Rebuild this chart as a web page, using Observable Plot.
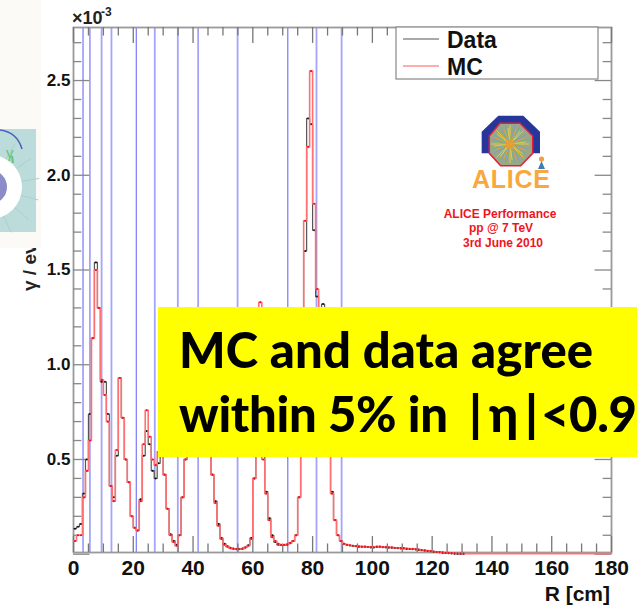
<!DOCTYPE html>
<html>
<head>
<meta charset="utf-8">
<script src="https://cdn.jsdelivr.net/npm/d3@7"></script>
<script src="https://cdn.jsdelivr.net/npm/@observablehq/plot@0.6"></script>
<style>
html,body{margin:0;padding:0;background:#fff;}
#wrap{position:relative;width:637px;height:608px;overflow:hidden;}
#wrap svg{position:absolute;left:0;top:0;}
</style>
</head>
<body>
<div id="wrap"></div>
<script>
// Per-bin values (R bin start = array index, cm), in units of 10^-3 gamma/event
const mcValues = [
  .07,.10,.10,.30,.44,.60,1.14,1.50,1.30,.92,
  .84,.70,.36,.28,.55,.93,.72,.50,.38,.20,
  .14,.125,.28,.58,.76,.62,.50,.47,.54,.58,
  .42,.24,.10,.065,.045,.10,.30,.50,.90,1.00,
  .95,.85,.95,1.00,.90,.75,.42,.27,.15,.08,
  .05,.04,.032,.028,.026,.026,.028,.035,.045,.08,
  .40,.95,1.33,.50,.32,.18,.09,.07,.055,.05,
  .05,.052,.06,.07,.10,.30,.90,1.76,2.15,2.55,
  1.85,1.40,1.25,1.15,1.00,.70,.32,.18,.10,.07,
  .055,.05,.047,.045,.043,.042,.04,.04,.038,.038,
  .037,.04,.04,.038,.038,.036,.036,.034,.033,.032,
  .032,.03,.028,.028,.026,.025,.022,.02,.018,.016,
  .014,.012,.011,.01,.008,.007,.006,.005,.004,.004,.003
];
const dataValues = [
  .135,.145,.16,.32,.50,.74,1.14,1.54,1.30,.91,
  .91,.74,.36,.30,.52,.93,.72,.50,.38,.20,
  .14,.125,.29,.52,.65,.58,.44,.40,.48,.58,
  .42,.24,.105,.07,.05,.10,.30,.50,.88,.98,
  .93,.85,.93,.98,.88,.73,.42,.28,.16,.085,
  .055,.042,.034,.03,.028,.028,.03,.036,.047,.085,
  .40,.93,1.30,.52,.33,.19,.10,.065,.05,.048,
  .048,.05,.058,.07,.10,.30,.88,1.60,2.30,2.27,
  1.71,1.36,1.22,1.32,1.00,.70,.33,.18,.10,.07,
  .055,.05,.046,.044,.042,.04,.04,.039,.038,.036,
  .036,.038,.04,.037,.036,.035,.034,.033,.032,.03,
  .03,.028,.027,.026,.025,.023,.021,.019,.017,.015,
  .013,.011,.01,.008,.006,.005,.004,.003,.002,.002,.001
];
const mcTailR = [131, 180];
const mcTailValues = [.003, .003];

// Vertical material-boundary lines (R in cm)
const paleLines = [3.2, 9.4, 12.7, 27.2, 34.9, 41.7, 54.9, 81.3, 89.7];
const darkLines = [5.5, 21, 71.7];

const xLabels = [0,20,40,60,80,100,120,140,160,180];
const yLabels = [0.5,1.0,1.5,2.0,2.5];
const xTicksMinor = d3.range(0,181,5);
const yTicksMinor = d3.range(0,2.8,0.1);

const xMax = 180, yMin = 0.009, yMax = 2.78;
const xMajorLen = 5.5, xMinorLen = 2.8;     // tick length in cm
const yMajorLen = 0.084, yMinorLen = 0.045; // tick length in 10^-3 units

const rows = (vals) => vals.map((v,i)=>({R:i, v}));
const mcRows = rows(mcValues).concat(mcTailR.map((R,i)=>({R, v:mcTailValues[i]})));
const dataRows = rows(dataValues);

const grey = "#9a9a9a";
const axisFont = "'Liberation Sans', Arial, sans-serif";

const plot = Plot.plot({
  width:637, height:608,
  marginLeft:73, marginRight:26, marginTop:27, marginBottom:56,
  style:{background:"#fff", fontFamily:axisFont, overflow:"visible"},
  x:{domain:[0,xMax], axis:null},
  y:{domain:[yMin,yMax], axis:null},
  marks:[
    // boundary lines
    Plot.ruleX(paleLines,{stroke:"#a4a4fb", strokeWidth:1.8}),
    Plot.ruleX(darkLines,{stroke:"#6c6cf2", strokeWidth:1.1}),
    // frame
    Plot.frame({stroke:grey, strokeWidth:1.8}),
    // ticks, bottom and top, left and right
    Plot.ruleX(xTicksMinor,{y1:yMin, y2:d=>yMin+(d%20===0?yMajorLen:yMinorLen), stroke:"#777", strokeWidth:1.3}),
    Plot.ruleX(xTicksMinor,{y1:yMax, y2:d=>yMax-(d%20===0?yMajorLen:yMinorLen), stroke:"#777", strokeWidth:1.3}),
    Plot.ruleY(yTicksMinor,{x1:0, x2:d=>(Math.round(d*10)%5===0?xMajorLen:xMinorLen), stroke:"#888", strokeWidth:1.3}),
    Plot.ruleY(yTicksMinor,{x1:xMax, x2:d=>xMax-(Math.round(d*10)%5===0?xMajorLen:xMinorLen), stroke:"#888", strokeWidth:1.3}),
    // tick labels
    Plot.axisX(xLabels,{anchor:"bottom", tickSize:0, tickPadding:8, fontSize:21, fontWeight:700, fill:"#111", label:null, tickFormat:d=>d}),
    Plot.axisY(yLabels,{anchor:"left", tickSize:0, tickPadding:3, fontSize:17, fontWeight:700, fill:"#111", label:null, tickFormat:d=>d.toFixed(1)}),
    // curves with their per-bin points
    Plot.line(dataRows,{x:"R", y:"v", curve:"step-after", stroke:"#555", strokeWidth:1.2}),
    Plot.dot(dataRows,{x:d=>d.R+0.5, y:"v", r:1, fill:"#111"}),
    Plot.line(mcRows,{x:"R", y:"v", curve:"step-after", stroke:"#ff7070", strokeWidth:1.6}),
    Plot.dot(mcValues.map((v,i)=>({R:i,v})),{x:d=>d.R+0.5, y:"v", r:1.05, fill:"#e8101c"})
  ]
});
document.getElementById("wrap").appendChild(plot);

// Decorations that sit on top of the plot
const ov = d3.select("#wrap").append("svg").attr("width",637).attr("height",608)
  .style("font-family",axisFont);

// axis captions
ov.append("text").attr("x",72).attr("y",24).attr("font-size",18).attr("font-weight",700).attr("fill","#222").text("×10");
ov.append("text").attr("x",101).attr("y",16).attr("font-size",12).attr("font-weight",700).attr("fill","#222").text("-3");
ov.append("text").attr("x",610).attr("y",601).attr("text-anchor","end").attr("font-size",21).attr("font-weight",700).attr("fill","#111").text("R [cm]");
ov.append("text").attr("transform","translate(36,291) rotate(-90)").attr("font-size",19).attr("font-weight",700).attr("fill","#222").text("γ / ev");

// pasted picture on the left (covers the rest of the y title)
ov.append("rect").attr("x",0).attr("y",0).attr("width",41).attr("height",248).attr("fill","#fbfaf7");
ov.append("rect").attr("x",0).attr("y",129).attr("width",36).attr("height",103).attr("fill","#bcdcdb");
for (const a of [-60,-35,-10,15,40,65]) {
  const r=a*Math.PI/180;
  ov.append("line").attr("x1",-10+32*Math.cos(r)).attr("y1",187+32*Math.sin(r))
    .attr("x2",-10+50*Math.cos(r)).attr("y2",187+50*Math.sin(r)).attr("stroke","#abcfcd").attr("stroke-width",1);
}
ov.append("circle").attr("cx",-10).attr("cy",187).attr("r",32).attr("fill","#fff");
ov.append("circle").attr("cx",-10).attr("cy",187).attr("r",13).attr("fill","none").attr("stroke","#8c8cc8").attr("stroke-width",8);
ov.append("path").attr("d","M0 130 Q17 132 22 149").attr("fill","none").attr("stroke","#4a62c0").attr("stroke-width",1.5);
ov.append("text").attr("x",6).attr("y",158).attr("font-size",15).attr("fill","#66c27a").text("γ");
ov.append("line").attr("x1",12).attr("y1",156).attr("x2",13).attr("y2",163).attr("stroke","#66c27a").attr("stroke-width",2);

// legend
ov.append("rect").attr("x",396).attr("y",27).attr("width",202).attr("height",52).attr("fill","#fff").attr("stroke","#888").attr("stroke-width",1.2);
ov.append("line").attr("x1",403).attr("x2",439).attr("y1",39).attr("y2",39).attr("stroke","#555").attr("stroke-width",1);
ov.append("line").attr("x1",403).attr("x2",439).attr("y1",66).attr("y2",66).attr("stroke","#ff5a5a").attr("stroke-width",1);
ov.append("text").attr("x",447).attr("y",48).attr("font-size",23).attr("font-weight",700).attr("fill","#111").text("Data");
ov.append("text").attr("x",447).attr("y",75).attr("font-size",23).attr("font-weight",700).attr("fill","#111").text("MC");

// ALICE logo
const P = pts => pts.map(p=>[460+p[0]/3,100+p[1]/3].join(",")).join(" ");
ov.append("polygon").attr("points",P([[65,160],[65,95],[115,47],[190,47],[240,95],[240,160],[218,160],[218,108],[180,70],[120,70],[88,108],[88,160]])).attr("fill","#27369a");
ov.append("polygon").attr("points",P([[120,70],[180,70],[218,108],[218,160],[182,197],[122,197],[88,160],[88,108]])).attr("fill","#9aa88a").attr("stroke","#e3203a").attr("stroke-width",1.5);
const rayCols = ["#f2c23a","#8fb45a","#7f9ec0","#e8a038","#6fae9a","#d9d24a"];
for (let i=0;i<48;i++){
  const a=i*7.5*Math.PI/180, len=i%2?16:19;
  ov.append("line").attr("x1",510).attr("y1",144).attr("x2",510+len*Math.cos(a)).attr("y2",144+len*Math.sin(a))
    .attr("stroke",rayCols[i%rayCols.length]).attr("stroke-width",1);
}
ov.append("circle").attr("cx",510).attr("cy",144).attr("r",5).attr("fill","#ef9a2e").attr("opacity",.8);
ov.append("circle").attr("cx",541.5).attr("cy",159).attr("r",2.6).attr("fill","#f0a040");
ov.append("path").attr("d","M541.5 161 L538 169 L545 169 Z").attr("fill","#3b7fb0");
ov.append("text").attr("x",472).attr("y",188).attr("font-size",25).attr("font-weight",700).attr("fill","#f8a83c").attr("textLength",78).text("ALICE");

// red note
[["ALICE Performance",500,218],["pp @ 7 TeV",501,232],["3rd June 2010",503,247]].forEach(([t,x,y])=>{
  ov.append("text").attr("x",x).attr("y",y).attr("text-anchor","middle").attr("font-size",12).attr("font-weight",700).attr("fill","#f0141e").text(t);
});

// yellow call-out
ov.append("rect").attr("x",158).attr("y",307).attr("width",479).attr("height",150).attr("fill","#ffff00");
const callFont = "Lato, sans-serif";
const call = (t,x,y,extra={}) => {
  const e = ov.append("text").attr("x",x).attr("y",y).attr("font-family",callFont).attr("font-size",49).attr("font-weight",900).attr("fill","#000").text(t);
  for (const k in extra) e.attr(k,extra[k]);
};
call("MC and data agree",179,368,{textLength:414});
call("within 5% in",179,432,{textLength:269});
call("|",469,432);
call("η",489,432);
call("|",525,432);
call("<0.9",541,432,{textLength:96});
</script>
</body>
</html>
